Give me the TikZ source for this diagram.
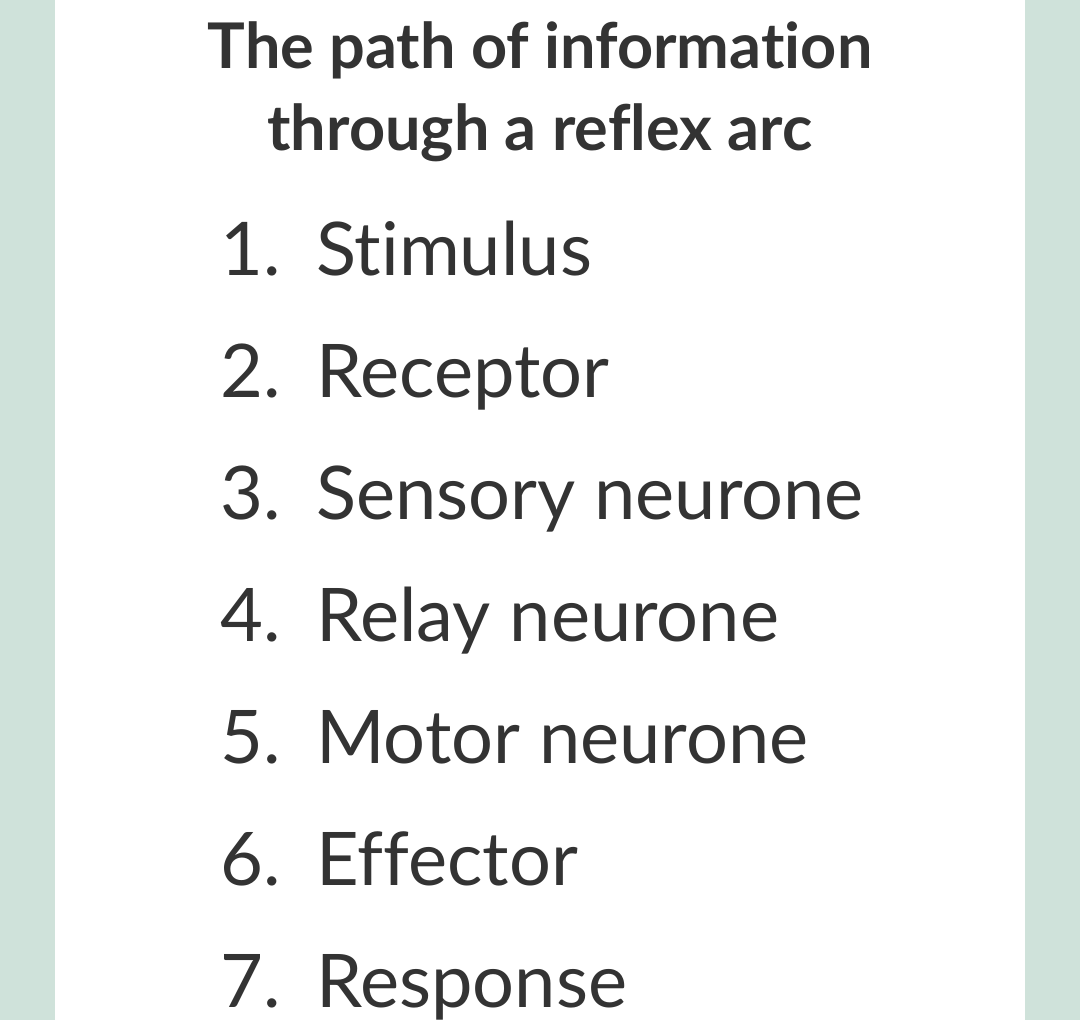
\documentclass[tikz,border=0pt]{standalone}
\usepackage{fontspec}
\setmainfont{Lato}[Ligatures={NoCommon,NoDiscretionary,NoRare,NoContextual}]
\definecolor{side}{HTML}{CFE2DA}
\definecolor{ink}{HTML}{333333}
\begin{document}
\begin{tikzpicture}[x=1pt,y=-1pt,
  title/.style={font=\fontsize{63}{63}\selectfont\bfseries,text=ink,anchor=base,inner sep=0},
  num/.style={font=\fontsize{74}{74}\selectfont,text=ink,anchor=base west,inner sep=0},
  item/.style={font=\fontsize{74}{74}\selectfont,text=ink,anchor=base west,inner sep=0}]
\useasboundingbox (0,0) rectangle (1080,1020);
\fill[side] (0,0) rectangle (1080,1020);
\fill[white] (55,0) rectangle (1025,1020);
\node[title] (t1) at (540,68) {The path of information};
\node[title] (t2) at (540,150) {through a reflex arc};
\foreach \i/\t [count=\k] in {1/Stimulus,2/Receptor,3/Sensory neurone,4/Relay neurone,5/Motor neurone,6/Effector,7/Response}{
  \node[num] (n\k) at (220,{275+122*(\k-1)}) {\i.};
  \node[item] (i\k) at (316,{275+122*(\k-1)}) {\t};
}
\end{tikzpicture}
\end{document}
